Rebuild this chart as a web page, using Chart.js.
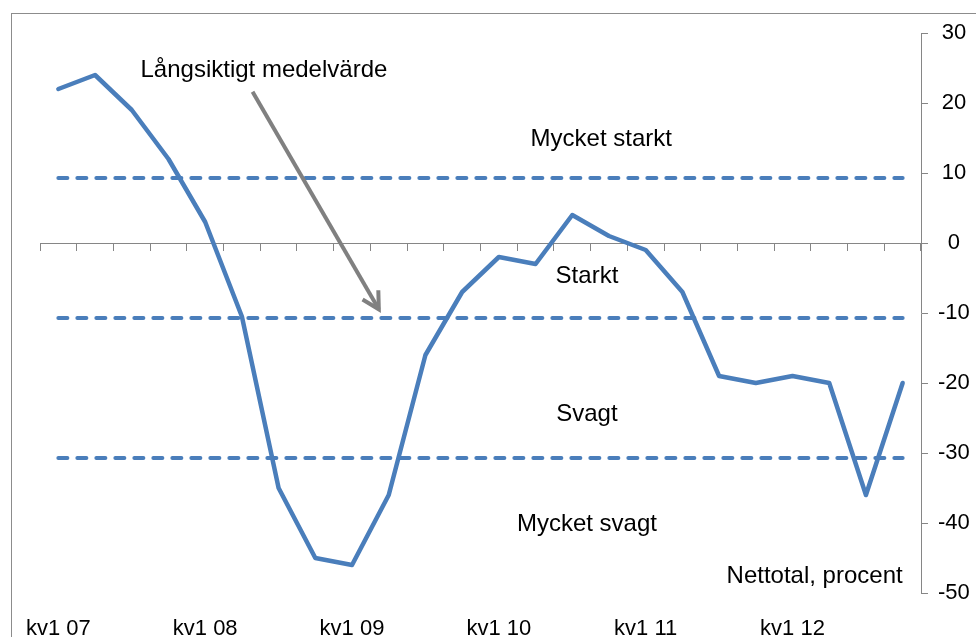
<!DOCTYPE html>
<html>
<head>
<meta charset="utf-8">
<script src="https://cdn.jsdelivr.net/npm/chart.js@4/dist/chart.umd.min.js"></script>
<style>
  html, body { margin: 0; padding: 0; background: #fff; overflow: hidden; }
  #wrap { position: relative; width: 976px; height: 637px; }
  #frame { position: absolute; left: 11px; top: 13px; width: 1000px; height: 700px;
           border-left: 1px solid #8c8c8c; border-top: 1px solid #8c8c8c; }
  canvas { position: absolute; left: 0; top: 0; }
</style>
</head>
<body>
<div id="wrap">
  <div id="frame"></div>
  <canvas id="chart" width="976" height="637"></canvas>
</div>
<script>
// kvartal, kv1 07 - kv4 12
const quarters = [
  'kv1 07', 'kv2 07', 'kv3 07', 'kv4 07',
  'kv1 08', 'kv2 08', 'kv3 08', 'kv4 08',
  'kv1 09', 'kv2 09', 'kv3 09', 'kv4 09',
  'kv1 10', 'kv2 10', 'kv3 10', 'kv4 10',
  'kv1 11', 'kv2 11', 'kv3 11', 'kv4 11',
  'kv1 12', 'kv2 12', 'kv3 12', 'kv4 12'
];
// nettotal, procent
const nettotal = [22, 24, 19, 12, 3, -10.5, -35, -45, -46, -36, -16, -7,
                  -2, -3, 4, 1, -1, -7, -19, -20, -19, -20, -36, -20];
// gränser: medelvärde +/- en standardavvikelse
const levelValues = [9.3, -10.7, -30.7];
const yMin = -50, yMax = 30, yStep = 10;

const blue = '#4a7ebb';
const grey = '#868686';
const font = "'Liberation Sans', Arial, sans-serif";

// texter i diagrammet (x = kvartalsindex, y = värde)
const notes = [
  { text: 'Långsiktigt medelvärde', x: 5.6, y: 23.7, align: 'center' },
  { text: 'Mycket starkt', x: 14.79, y: 13.8, align: 'center' },
  { text: 'Starkt', x: 14.4, y: -5.7, align: 'center' },
  { text: 'Svagt', x: 14.4, y: -25.4, align: 'center' },
  { text: 'Mycket svagt', x: 14.4, y: -41.1, align: 'center' },
  { text: 'Nettotal, procent', x: 23.0, y: -48.6, align: 'right' }
];
const arrow = { from: [5.29, 21.6], to: [8.73, -9.47] };

const levelSets = levelValues.map(v => ({
  data: quarters.map(() => v),
  borderColor: blue,
  borderWidth: 4,
  borderDash: [9, 10],
  borderCapStyle: 'round',
  pointRadius: 0,
  fill: false
}));

const overlay = {
  id: 'overlay',
  afterDatasetsDraw(chart) {
    const ctx = chart.ctx;
    const xs = chart.scales.x, ys = chart.scales.y;
    ctx.save();
    ctx.fillStyle = '#000';
    ctx.font = '24px ' + font;
    ctx.textBaseline = 'alphabetic';
    notes.forEach(n => {
      ctx.textAlign = n.align;
      ctx.fillText(n.text, xs.getPixelForValue(n.x), ys.getPixelForValue(n.y));
    });
    // pil
    const x1 = xs.getPixelForValue(arrow.from[0]), y1 = ys.getPixelForValue(arrow.from[1]);
    const x2 = xs.getPixelForValue(arrow.to[0]), y2 = ys.getPixelForValue(arrow.to[1]);
    const ang = Math.atan2(y2 - y1, x2 - x1);
    ctx.strokeStyle = '#808080';
    ctx.lineWidth = 4;
    ctx.lineCap = 'butt';
    ctx.lineJoin = 'miter';
    ctx.beginPath();
    ctx.moveTo(x1, y1);
    ctx.lineTo(x2, y2);
    ctx.stroke();
    ctx.beginPath();
    ctx.moveTo(x2 - 19 * Math.cos(ang - 0.5), y2 - 19 * Math.sin(ang - 0.5));
    ctx.lineTo(x2, y2);
    ctx.lineTo(x2 - 19 * Math.cos(ang + 0.5), y2 - 19 * Math.sin(ang + 0.5));
    ctx.stroke();
    ctx.restore();
  }
};

new Chart(document.getElementById('chart'), {
  type: 'line',
  data: {
    labels: quarters,
    datasets: [{
      data: nettotal,
      borderColor: blue,
      borderWidth: 4.5,
      borderJoinStyle: 'round',
      borderCapStyle: 'round',
      pointRadius: 0,
      tension: 0,
      fill: false
    }].concat(levelSets)
  },
  options: {
    responsive: false,
    animation: false,
    layout: { padding: { left: 40, top: 33, right: 0, bottom: 0 } },
    plugins: { legend: { display: false }, tooltip: { enabled: false } },
    scales: {
      x: {
        type: 'category',
        position: { y: 0 },
        offset: true,
        grid: { offset: true, drawOnChartArea: false, drawTicks: true, tickLength: 7, color: grey },
        border: { display: true, color: grey, width: 1 },
        ticks: { display: false, autoSkip: false }
      },
      x2: {
        type: 'category',
        axis: 'x',
        position: 'bottom',
        offset: true,
        grid: { display: false, drawTicks: false },
        border: { display: false },
        ticks: {
          autoSkip: false,
          maxRotation: 0,
          padding: 23,
          color: '#000',
          font: { family: font, size: 22 },
          callback: (v, i) => (i % 4 === 0 ? quarters[i] : '')
        },
        afterFit: s => { s.height = 44; }
      },
      y: {
        position: 'right',
        min: yMin,
        max: yMax,
        grid: { drawOnChartArea: false, drawTicks: true, tickLength: 7, color: grey },
        border: { display: true, color: grey, width: 1 },
        ticks: {
          stepSize: yStep,
          padding: 10,
          crossAlign: 'center',
          color: '#000',
          font: { family: font, size: 22 }
        },
        afterFit: s => { s.width = 55; }
      }
    }
  },
  plugins: [overlay]
});
</script>
</body>
</html>
